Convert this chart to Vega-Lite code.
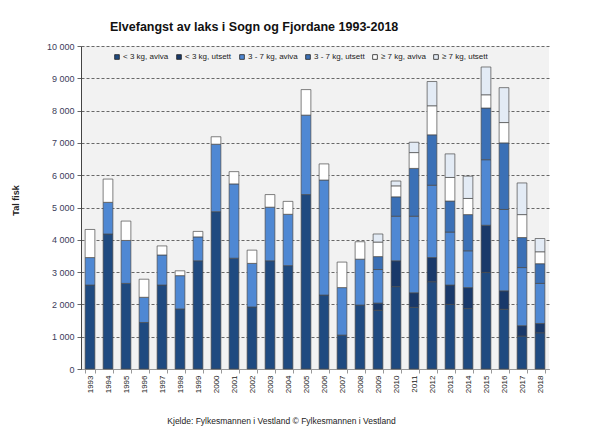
{
  "$schema": "https://vega.github.io/schema/vega-lite/v6.json",
  "width": 468,
  "height": 323,
  "autosize": "none",
  "padding": {"left": 81, "top": 46, "right": 64, "bottom": 67},
  "background": "white",
  "title": {
    "text": "Elvefangst av laks i Sogn og Fjordane 1993-2018",
    "anchor": "start",
    "frame": "group",
    "dx": 29,
    "offset": 9,
    "fontSize": 12.5,
    "fontWeight": "bold",
    "color": "#111"
  },
  "config": {
    "font": "Liberation Sans",
    "view": {"fill": "#f2f2f2", "stroke": null}
  },
  "data": {
    "values": [
      {"year": "1993", "cat": "< 3 kg, aviva", "n": 2600},
      {"year": "1993", "cat": "3 - 7 kg, aviva", "n": 850},
      {"year": "1993", "cat": "≥ 7 kg, aviva", "n": 870},
      {"year": "1994", "cat": "< 3 kg, aviva", "n": 4180},
      {"year": "1994", "cat": "3 - 7 kg, aviva", "n": 980},
      {"year": "1994", "cat": "≥ 7 kg, aviva", "n": 720},
      {"year": "1995", "cat": "< 3 kg, aviva", "n": 2650},
      {"year": "1995", "cat": "3 - 7 kg, aviva", "n": 1330},
      {"year": "1995", "cat": "≥ 7 kg, aviva", "n": 600},
      {"year": "1996", "cat": "< 3 kg, aviva", "n": 1440},
      {"year": "1996", "cat": "3 - 7 kg, aviva", "n": 780},
      {"year": "1996", "cat": "≥ 7 kg, aviva", "n": 560},
      {"year": "1997", "cat": "< 3 kg, aviva", "n": 2600},
      {"year": "1997", "cat": "3 - 7 kg, aviva", "n": 930},
      {"year": "1997", "cat": "≥ 7 kg, aviva", "n": 280},
      {"year": "1998", "cat": "< 3 kg, aviva", "n": 1860},
      {"year": "1998", "cat": "3 - 7 kg, aviva", "n": 1030},
      {"year": "1998", "cat": "≥ 7 kg, aviva", "n": 150},
      {"year": "1999", "cat": "< 3 kg, aviva", "n": 3350},
      {"year": "1999", "cat": "3 - 7 kg, aviva", "n": 740},
      {"year": "1999", "cat": "≥ 7 kg, aviva", "n": 170},
      {"year": "2000", "cat": "< 3 kg, aviva", "n": 4870},
      {"year": "2000", "cat": "3 - 7 kg, aviva", "n": 2090},
      {"year": "2000", "cat": "≥ 7 kg, aviva", "n": 230},
      {"year": "2001", "cat": "< 3 kg, aviva", "n": 3430},
      {"year": "2001", "cat": "3 - 7 kg, aviva", "n": 2300},
      {"year": "2001", "cat": "≥ 7 kg, aviva", "n": 380},
      {"year": "2002", "cat": "< 3 kg, aviva", "n": 1920},
      {"year": "2002", "cat": "3 - 7 kg, aviva", "n": 1350},
      {"year": "2002", "cat": "≥ 7 kg, aviva", "n": 410},
      {"year": "2003", "cat": "< 3 kg, aviva", "n": 3350},
      {"year": "2003", "cat": "3 - 7 kg, aviva", "n": 1660},
      {"year": "2003", "cat": "≥ 7 kg, aviva", "n": 390},
      {"year": "2004", "cat": "< 3 kg, aviva", "n": 3200},
      {"year": "2004", "cat": "3 - 7 kg, aviva", "n": 1590},
      {"year": "2004", "cat": "≥ 7 kg, aviva", "n": 400},
      {"year": "2005", "cat": "< 3 kg, aviva", "n": 5400},
      {"year": "2005", "cat": "3 - 7 kg, aviva", "n": 2460},
      {"year": "2005", "cat": "≥ 7 kg, aviva", "n": 790},
      {"year": "2006", "cat": "< 3 kg, aviva", "n": 2290},
      {"year": "2006", "cat": "3 - 7 kg, aviva", "n": 3560},
      {"year": "2006", "cat": "≥ 7 kg, aviva", "n": 500},
      {"year": "2007", "cat": "< 3 kg, aviva", "n": 1050},
      {"year": "2007", "cat": "3 - 7 kg, aviva", "n": 1470},
      {"year": "2007", "cat": "≥ 7 kg, aviva", "n": 790},
      {"year": "2008", "cat": "< 3 kg, aviva", "n": 1980},
      {"year": "2008", "cat": "3 - 7 kg, aviva", "n": 1420},
      {"year": "2008", "cat": "≥ 7 kg, aviva", "n": 540},
      {"year": "2009", "cat": "< 3 kg, aviva", "n": 1820},
      {"year": "2009", "cat": "< 3 kg, utsett", "n": 220},
      {"year": "2009", "cat": "3 - 7 kg, aviva", "n": 1040},
      {"year": "2009", "cat": "3 - 7 kg, utsett", "n": 400},
      {"year": "2009", "cat": "≥ 7 kg, aviva", "n": 450},
      {"year": "2009", "cat": "≥ 7 kg, utsett", "n": 250},
      {"year": "2010", "cat": "< 3 kg, aviva", "n": 2550},
      {"year": "2010", "cat": "< 3 kg, utsett", "n": 800},
      {"year": "2010", "cat": "3 - 7 kg, aviva", "n": 1380},
      {"year": "2010", "cat": "3 - 7 kg, utsett", "n": 600},
      {"year": "2010", "cat": "≥ 7 kg, aviva", "n": 340},
      {"year": "2010", "cat": "≥ 7 kg, utsett", "n": 150},
      {"year": "2011", "cat": "< 3 kg, aviva", "n": 1910},
      {"year": "2011", "cat": "< 3 kg, utsett", "n": 450},
      {"year": "2011", "cat": "3 - 7 kg, aviva", "n": 2370},
      {"year": "2011", "cat": "3 - 7 kg, utsett", "n": 1480},
      {"year": "2011", "cat": "≥ 7 kg, aviva", "n": 490},
      {"year": "2011", "cat": "≥ 7 kg, utsett", "n": 320},
      {"year": "2012", "cat": "< 3 kg, aviva", "n": 2700},
      {"year": "2012", "cat": "< 3 kg, utsett", "n": 750},
      {"year": "2012", "cat": "3 - 7 kg, aviva", "n": 2240},
      {"year": "2012", "cat": "3 - 7 kg, utsett", "n": 1560},
      {"year": "2012", "cat": "≥ 7 kg, aviva", "n": 900},
      {"year": "2012", "cat": "≥ 7 kg, utsett", "n": 750},
      {"year": "2013", "cat": "< 3 kg, aviva", "n": 2000},
      {"year": "2013", "cat": "< 3 kg, utsett", "n": 600},
      {"year": "2013", "cat": "3 - 7 kg, aviva", "n": 1640},
      {"year": "2013", "cat": "3 - 7 kg, utsett", "n": 960},
      {"year": "2013", "cat": "≥ 7 kg, aviva", "n": 730},
      {"year": "2013", "cat": "≥ 7 kg, utsett", "n": 730},
      {"year": "2014", "cat": "< 3 kg, aviva", "n": 1870},
      {"year": "2014", "cat": "< 3 kg, utsett", "n": 650},
      {"year": "2014", "cat": "3 - 7 kg, aviva", "n": 1140},
      {"year": "2014", "cat": "3 - 7 kg, utsett", "n": 1120},
      {"year": "2014", "cat": "≥ 7 kg, aviva", "n": 500},
      {"year": "2014", "cat": "≥ 7 kg, utsett", "n": 690},
      {"year": "2015", "cat": "< 3 kg, aviva", "n": 2990},
      {"year": "2015", "cat": "< 3 kg, utsett", "n": 1460},
      {"year": "2015", "cat": "3 - 7 kg, aviva", "n": 2030},
      {"year": "2015", "cat": "3 - 7 kg, utsett", "n": 1600},
      {"year": "2015", "cat": "≥ 7 kg, aviva", "n": 410},
      {"year": "2015", "cat": "≥ 7 kg, utsett", "n": 860},
      {"year": "2016", "cat": "< 3 kg, aviva", "n": 1850},
      {"year": "2016", "cat": "< 3 kg, utsett", "n": 570},
      {"year": "2016", "cat": "3 - 7 kg, aviva", "n": 2520},
      {"year": "2016", "cat": "3 - 7 kg, utsett", "n": 2060},
      {"year": "2016", "cat": "≥ 7 kg, aviva", "n": 630},
      {"year": "2016", "cat": "≥ 7 kg, utsett", "n": 1080},
      {"year": "2017", "cat": "< 3 kg, aviva", "n": 1020},
      {"year": "2017", "cat": "< 3 kg, utsett", "n": 320},
      {"year": "2017", "cat": "3 - 7 kg, aviva", "n": 1800},
      {"year": "2017", "cat": "3 - 7 kg, utsett", "n": 930},
      {"year": "2017", "cat": "≥ 7 kg, aviva", "n": 710},
      {"year": "2017", "cat": "≥ 7 kg, utsett", "n": 980},
      {"year": "2018", "cat": "< 3 kg, aviva", "n": 1120},
      {"year": "2018", "cat": "< 3 kg, utsett", "n": 290},
      {"year": "2018", "cat": "3 - 7 kg, aviva", "n": 1240},
      {"year": "2018", "cat": "3 - 7 kg, utsett", "n": 610},
      {"year": "2018", "cat": "≥ 7 kg, aviva", "n": 370},
      {"year": "2018", "cat": "≥ 7 kg, utsett", "n": 410}
    ]
  },
  "transform": [
    {"calculate": "indexof(['< 3 kg, aviva', '< 3 kg, utsett', '3 - 7 kg, aviva', '3 - 7 kg, utsett', '≥ 7 kg, aviva', '≥ 7 kg, utsett'], datum.cat)", "as": "stackOrder"}
  ],
  "mark": {"type": "bar", "stroke": "#4a4a4a", "strokeWidth": 0.7},
  "encoding": {
    "x": {
      "field": "year",
      "type": "ordinal",
      "scale": {"paddingInner": 0.46, "paddingOuter": 0.23},
      "axis": {
        "title": "Kjelde: Fylkesmannen i Vestland © Fylkesmannen i Vestland",
        "titleFontSize": 8.5,
        "titleFontWeight": "normal",
        "titleColor": "#222",
        "titleX": 200,
        "titleY": 47,
        "labelAngle": 270,
        "labelFontSize": 8,
        "labelColor": "#222",
        "labelPadding": 2,
        "tickBand": "extent",
        "tickSize": 4,
        "tickColor": "#999",
        "domainColor": "#999"
      }
    },
    "y": {
      "field": "n",
      "type": "quantitative",
      "stack": "zero",
      "scale": {"domain": [0, 10000], "nice": false},
      "axis": {
        "title": "Tal fisk",
        "titleFontSize": 9,
        "titleFontWeight": "bold",
        "titleColor": "#222",
        "titleX": -66,
        "titleY": 154,
        "titleAngle": 270,
        "titleAlign": "center",
        "titleBaseline": "middle",
        "values": [0, 1000, 2000, 3000, 4000, 5000, 6000, 7000, 8000, 9000, 10000],
        "labelExpr": "replace(format(datum.value, ','), ',', ' ')",
        "labelFontSize": 9,
        "labelColor": "#3c3c5a",
        "labelPadding": 3,
        "tickSize": 4,
        "tickColor": "#666",
        "domainColor": "#444",
        "grid": true,
        "gridColor": "#444",
        "gridDash": [3, 2],
        "gridWidth": 0.8
      }
    },
    "order": {"field": "stackOrder", "type": "quantitative", "sort": "ascending"},
    "color": {
      "field": "cat",
      "type": "nominal",
      "scale": {
        "domain": ["< 3 kg, aviva", "< 3 kg, utsett", "3 - 7 kg, aviva", "3 - 7 kg, utsett", "≥ 7 kg, aviva", "≥ 7 kg, utsett"],
        "range": ["#1f4a80", "#19396a", "#4f88d3", "#3b70b6", "#ffffff", "#e3ebf5"]
      },
      "legend": {
        "title": null,
        "orient": "none",
        "legendX": 32,
        "legendY": 7,
        "direction": "horizontal",
        "columns": 6,
        "columnPadding": 6,
        "symbolType": "square",
        "symbolSize": 22,
        "symbolStrokeColor": "#222",
        "symbolStrokeWidth": 0.8,
        "labelFontSize": 8,
        "labelColor": "#222",
        "labelOffset": 2
      }
    }
  }
}
